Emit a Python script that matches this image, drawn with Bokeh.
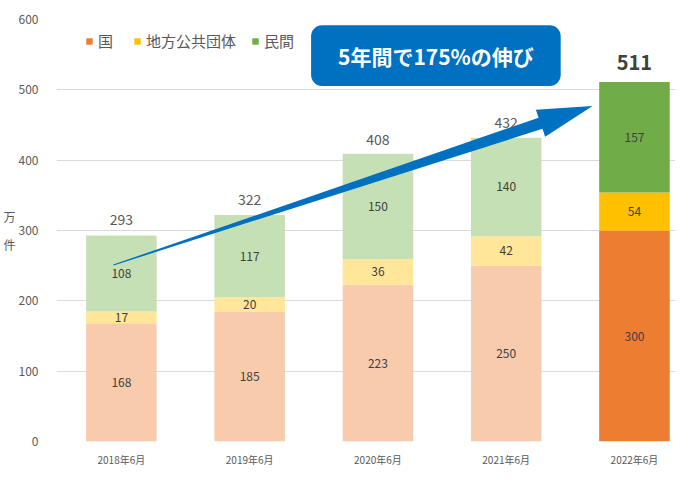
import numpy as np
from bokeh.plotting import figure
from bokeh.models import (ColumnDataSource, Range1d, FixedTicker, Legend, LegendItem,
                          Label, BoxAnnotation)
from bokeh.core.properties import value
from bokeh.embed import file_html
from bokeh.resources import INLINE

# ---------------- data ----------------
categories = ["2018年6月", "2019年6月", "2020年6月", "2021年6月", "2022年6月"]
kuni = [168, 185, 223, 250, 300]          # 国
chiho = [17, 20, 36, 42, 54]              # 地方公共団体
minkan = [108, 117, 150, 140, 157]        # 民間
totals = [293, 322, 408, 432, 511]
series_names = ["国", "地方公共団体", "民間"]
y_ticks = [0, 100, 200, 300, 400, 500, 600]
title_text = "5年間で175%の伸び"
unit_text = "万\n件"

# ---------------- style ----------------
FONT = "Noto Sans CJK JP"
light_colors = ["#F8CBAD", "#FFE699", "#C5E0B4"]
dark_colors = ["#ED7D31", "#FFC000", "#70AD47"]
BLUE = "#0070C0"
W, H = 675, 469
BL, BR, BT, BB = 55, 0, 19, 18
X0, X1 = -0.506, 4.32
Y0, Y1 = 0, 600
FW, FH = W - BL - BR, H - BT - BB
KX, KY = FW / (X1 - X0), FH / (Y1 - Y0)

p = figure(width=W, height=H, x_range=Range1d(X0, X1), y_range=Range1d(Y0, Y1),
           output_backend="svg", toolbar_location=None,
           min_border_left=BL, min_border_right=BR, min_border_top=BT, min_border_bottom=BB)
p.outline_line_color = None
p.xgrid.grid_line_color = None
p.ygrid.grid_line_color = "#D9D9D9"
p.ygrid.ticker = FixedTicker(ticks=y_ticks)

idx = list(range(len(categories)))
n = len(categories)

series = [kuni, chiho, minkan]
bottom = np.zeros(n)
renderers = []
label_sources = []
for i, vals in enumerate(series):
    vals = np.array(vals, dtype=float)
    top = bottom + vals
    colors = [light_colors[i]] * (n - 1) + [dark_colors[i]]
    src = ColumnDataSource(dict(x=idx, top=top, bottom=bottom.copy(), color=colors,
                                mid=(top + bottom) / 2, label=[str(int(v)) for v in vals]))
    r = p.vbar(x="x", top="top", bottom="bottom", width=0.55, fill_color="color",
               line_color=None, source=src)
    renderers.append(r)
    label_sources.append(src)
    bottom = top

# helpers: data <-> figure pixel coords (y down, measured from figure top-left)
def to_px(pt):
    return np.array([BL + (pt[0] - X0) * KX, BT + FH - (pt[1] - Y0) * KY])

def to_data(pp):
    return np.array([(pp[0] - BL) / KX + X0, (BT + FH - pp[1]) / KY + Y0])

# arrow (tapered shaft, built in pixel space)
tail = np.array([-0.062, 251.0])
tip = np.array([3.673, 477.0])
tp, hp = to_px(tail), to_px(tip)
d = hp - tp
d = d / np.hypot(*d)
nrm = np.array([-d[1], d[0]])
neck = hp - d * 55
pts = [tp + nrm * 0.5, neck + nrm * 6, neck + nrm * 14.5, hp,
       neck - nrm * 14.5, neck - nrm * 6, tp - nrm * 0.5]
pts = [to_data(q) for q in pts]
p.patch([q[0] for q in pts], [q[1] for q in pts], fill_color=BLUE, line_color=None)

# segment labels
for src in label_sources:
    p.text(x="x", y="mid", text="label", source=src, text_align="center",
           text_baseline="middle", text_font=value(FONT), text_font_size="12px",
           text_color="#404040")

# totals
tot_src = ColumnDataSource(dict(x=idx[:-1], y=totals[:-1], t=[str(v) for v in totals[:-1]]))
p.text(x="x", y="y", text="t", source=tot_src, text_align="center", text_baseline="bottom",
       y_offset=-10, text_font=value(FONT), text_font_size="14px", text_color="#595959")
last_src = ColumnDataSource(dict(x=idx[-1:], y=totals[-1:], t=[str(v) for v in totals[-1:]]))
p.text(x="x", y="y", text="t", source=last_src, text_align="center", text_baseline="bottom",
       y_offset=-12, text_font=value(FONT), text_font_size="20px", text_font_style="bold",
       text_color="#404040")

# title box
bl_, bt_ = to_data([310, 25])
br_, bb_ = to_data([560, 87])
p.add_layout(BoxAnnotation(left=bl_, right=br_, top=bt_, bottom=bb_,
                           fill_color=BLUE, fill_alpha=1.0, line_color=None, border_radius=11))
p.add_layout(Label(x=(bl_ + br_) / 2, y=(bt_ + bb_) / 2, text=title_text,
                   text_align="center", text_baseline="middle", text_color="white",
                   text_font=FONT, text_font_style="bold", text_font_size="21px"))

# axes
p.yaxis.ticker = FixedTicker(ticks=y_ticks)
p.yaxis.axis_line_color = None
p.yaxis.major_tick_line_color = None
p.yaxis.minor_tick_line_color = None
p.yaxis.major_label_standoff = 12
p.yaxis.major_label_text_font = FONT
p.yaxis.major_label_text_font_size = "12px"
p.yaxis.major_label_text_color = "#595959"
p.yaxis.axis_label = unit_text
p.yaxis.axis_label_standoff = 0
p.yaxis.axis_label_text_font = FONT
p.yaxis.axis_label_text_font_size = "12px"
p.yaxis.axis_label_text_font_style = "normal"
p.yaxis.axis_label_text_color = "#595959"
p.yaxis.axis_label_text_line_height = 1.7
if "axis_label_orientation" in p.yaxis[0].properties():
    p.yaxis.axis_label_orientation = "horizontal"

p.xaxis.ticker = FixedTicker(ticks=idx)
p.xaxis.major_label_overrides = {i: c for i, c in zip(idx, categories)}
p.xaxis.axis_line_color = None
p.xaxis.major_tick_line_color = None
p.xaxis.minor_tick_line_color = None
p.xaxis.major_label_standoff = 4
p.xaxis.major_label_text_font = FONT
p.xaxis.major_label_text_font_size = "10px"
p.xaxis.major_label_text_color = "#595959"

# legend
items = [LegendItem(label=nm, renderers=[r], index=n - 1) for nm, r in zip(series_names, renderers)]
legend = Legend(items=items, orientation="horizontal", location=(29, FH - 42),
                glyph_width=8, glyph_height=8, label_text_font=FONT,
                label_text_font_size="15px", label_text_color="#595959",
                spacing=15, padding=0, margin=0, border_line_color=None,
                background_fill_alpha=0, label_standoff=5)
p.add_layout(legend)

open("out.html", "w").write(file_html(p, INLINE))
